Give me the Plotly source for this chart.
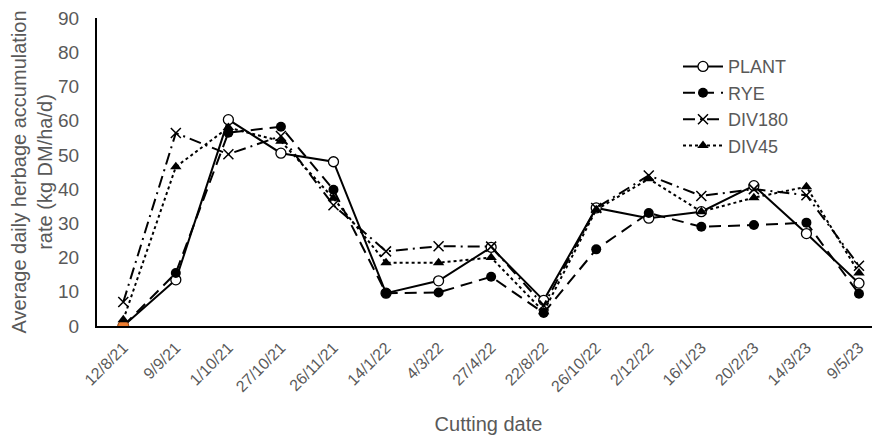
import plotly.graph_objects as go

dates = ["12/8/21", "9/9/21", "1/10/21", "27/10/21", "26/11/21", "14/1/22", "4/3/22",
         "27/4/22", "22/8/22", "26/10/22", "2/12/22", "16/1/23", "20/2/23", "14/3/23", "9/5/23"]
plant = [0, 13.5, 60.3, 50.5, 48.0, 9.6, 13.2, 23.0, 7.5, 34.5, 31.5, 33.4, 41.0, 27.0, 12.5]
rye = [0, 15.5, 56.5, 58.2, 39.8, 9.6, 9.8, 14.4, 3.8, 22.4, 33.0, 29.0, 29.5, 30.2, 9.4]
div180 = [7.0, 56.4, 50.2, 55.5, 35.3, 21.8, 23.3, 23.2, 6.0, 34.5, 44.0, 38.0, 40.0, 38.2, 17.6]
div45 = [1.8, 46.5, 58.0, 54.0, 37.3, 18.5, 18.5, 20.0, 4.2, 34.0, 43.0, 33.4, 37.5, 40.7, 15.5]

GREY = "#595959"
FONT = "Liberation Sans, Arial, sans-serif"
fig = go.Figure()

fig.add_trace(go.Scatter(x=dates, y=plant, name="PLANT", mode="lines+markers",
                         line=dict(color="black", width=2, dash="solid"),
                         marker=dict(symbol="circle", size=10, color="white",
                                     line=dict(color="black", width=1.3))))
fig.add_trace(go.Scatter(x=dates, y=rye, name="RYE", mode="lines+markers",
                         line=dict(color="black", width=2, dash="12px,7px"),
                         marker=dict(symbol="circle", size=10, color="black")))
# highlighted first PLANT point (orange)
fig.add_trace(go.Scatter(x=dates[:1], y=plant[:1], mode="markers", showlegend=False,
                         hoverinfo="skip",
                         marker=dict(symbol="circle", size=11, color="#ED7D31",
                                     line=dict(color="#9a4a12", width=1))))
fig.add_trace(go.Scatter(x=dates, y=div180, name="DIV180", mode="lines+markers",
                         line=dict(color="black", width=2, dash="12px,5px,2px,5px"),
                         marker=dict(symbol="x-thin", size=10,
                                     line=dict(color="black", width=1.5))))
fig.add_trace(go.Scatter(x=dates, y=div45, name="DIV45", mode="lines+markers",
                         line=dict(color="black", width=2, dash="dot"),
                         marker=dict(symbol="triangle-up", size=10, color="black")))

fig.update_layout(
    width=880, height=438,
    margin=dict(l=89, r=8, t=10, b=120),
    paper_bgcolor="white", plot_bgcolor="white",
    font=dict(family=FONT, color=GREY, size=18),
    showlegend=True,
    legend=dict(x=0.742, y=0.902, xanchor="left", yanchor="top",
                font=dict(family=FONT, size=18, color=GREY), bgcolor="rgba(0,0,0,0)",
                itemwidth=40, tracegroupgap=0),
    xaxis=dict(type="category", range=[-0.5, 14.4], showgrid=False, zeroline=False,
               automargin=False, ticklabeloverflow="allow",
               showline=True, linecolor="black", linewidth=2, ticks="",
               tickangle=-45, tickfont=dict(family=FONT, size=16, color=GREY),
               ticklabelstandoff=4,
               title=dict(text="Cutting date", font=dict(family=FONT, size=20, color=GREY),
                          standoff=23)),
    yaxis=dict(range=[0, 90], dtick=10, showgrid=False, zeroline=False,
               automargin=False, ticklabeloverflow="allow",
               showline=True, linecolor="black", linewidth=2, ticks="",
               tickfont=dict(family=FONT, size=19, color=GREY),
               ticklabelstandoff=12,
               title=dict(text="Average daily herbage accumulation<br>rate (kg DM/ha/d)",
                          font=dict(family=FONT, size=20, color=GREY), standoff=0)),
)

fig.write_html("out.html")
